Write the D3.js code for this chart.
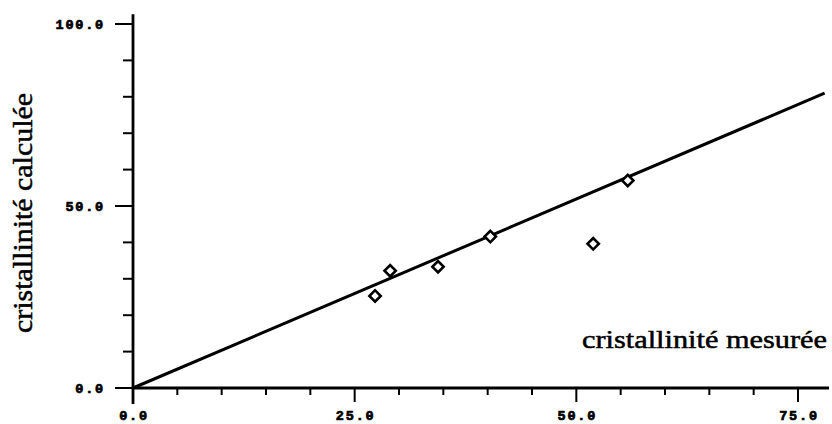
<!DOCTYPE html>
<html><head><meta charset="utf-8">
<script src="https://cdn.jsdelivr.net/npm/d3@7"></script>
<style>
body{margin:0;background:#fff;}
svg{display:block;}
.tl{font-family:"Liberation Mono","DejaVu Sans Mono",monospace;font-weight:bold;font-size:13.5px;letter-spacing:1.8px;fill:#000;stroke:#000;stroke-width:0.7px;}
.ttl{font-family:"Liberation Serif","Times New Roman",serif;fill:#000;stroke:#000;stroke-width:0.5px;}
</style>
</head><body>
<script>
// Data
const measured = [27.3, 29.0, 34.4, 40.3, 51.9, 55.8];
const calculated = [25.3, 32.2, 33.3, 41.6, 39.6, 57.0];
const fitX = [0, 78];
const fitY = [0, 81];
const xTicks = [0,5,10,15,20,25,30,35,40,45,50,55,60,65,70,75];
const xLabels = [0, 25, 50, 75];
const yTicks = [0,10,20,30,40,50,60,70,80,90,100];
const yLabels = [0, 50, 100];
const xTitle = "cristallinité mesurée";
const yTitle = "cristallinité calculée";

const W = 832, H = 424;
const svg = d3.select("body").append("svg").attr("width", W).attr("height", H);

const x = d3.scaleLinear().domain([0, 75]).range([133, 798]);
const y = d3.scaleLinear().domain([0, 100]).range([388, 24]);
const fmt = d => d.toFixed(1);

// X axis
const gx = svg.append("g").attr("transform", `translate(0,${y(0)})`);
gx.append("line").attr("x1", x(0)).attr("x2", x(78.5)).attr("y1", 0).attr("y2", 0)
  .attr("stroke", "#000").attr("stroke-width", 2.8);
gx.selectAll("line.tk").data(xTicks).join("line").attr("class", "tk")
  .attr("x1", d => x(d)).attr("x2", d => x(d)).attr("y1", 0)
  .attr("y2", d => xLabels.includes(d) ? 14 : 7)
  .attr("stroke", "#000").attr("stroke-width", 2);
gx.selectAll("text").data(xLabels).join("text").attr("class", "tl")
  .attr("x", d => x(d) + 1).attr("y", 32).attr("text-anchor", "middle")
  .text(fmt);

// Y axis
const gy = svg.append("g").attr("transform", `translate(${x(0)},0)`);
gy.append("line").attr("x1", 0).attr("x2", 0).attr("y1", y(102.7)).attr("y2", y(-4.4))
  .attr("stroke", "#000").attr("stroke-width", 2.8);
gy.selectAll("line.tk").data(yTicks).join("line").attr("class", "tk")
  .attr("y1", d => y(d)).attr("y2", d => y(d)).attr("x1", 0)
  .attr("x2", d => yLabels.includes(d) ? -18 : -10)
  .attr("stroke", "#000").attr("stroke-width", 2);
gy.selectAll("text").data(yLabels).join("text").attr("class", "tl")
  .attr("x", -28).attr("y", d => y(d) + 5).attr("text-anchor", "end")
  .text(fmt);

// Fit line
const line = d3.line().x(d => x(d[0])).y(d => y(d[1]));
svg.append("path").datum(fitX.map((v, i) => [v, fitY[i]]))
  .attr("d", line).attr("fill", "none").attr("stroke", "#000").attr("stroke-width", 3);

// Points
const sym = d3.symbol().type(d3.symbolSquare).size(64);
svg.selectAll("path.pt").data(measured.map((v, i) => [v, calculated[i]])).join("path")
  .attr("class", "pt").attr("d", sym)
  .attr("transform", d => `translate(${x(d[0])},${y(d[1])}) rotate(45)`)
  .attr("fill", "#fff").attr("stroke", "#000").attr("stroke-width", 2.6);

// Titles
svg.append("text").attr("class", "ttl").attr("x", 582).attr("y", 348)
  .attr("font-size", 25).attr("textLength", 245).attr("lengthAdjust", "spacingAndGlyphs")
  .text(xTitle);
svg.append("text").attr("class", "ttl")
  .attr("transform", "translate(32,333) rotate(-90)")
  .attr("font-size", 28).attr("textLength", 240).attr("lengthAdjust", "spacingAndGlyphs")
  .text(yTitle);
</script>
</body></html>
